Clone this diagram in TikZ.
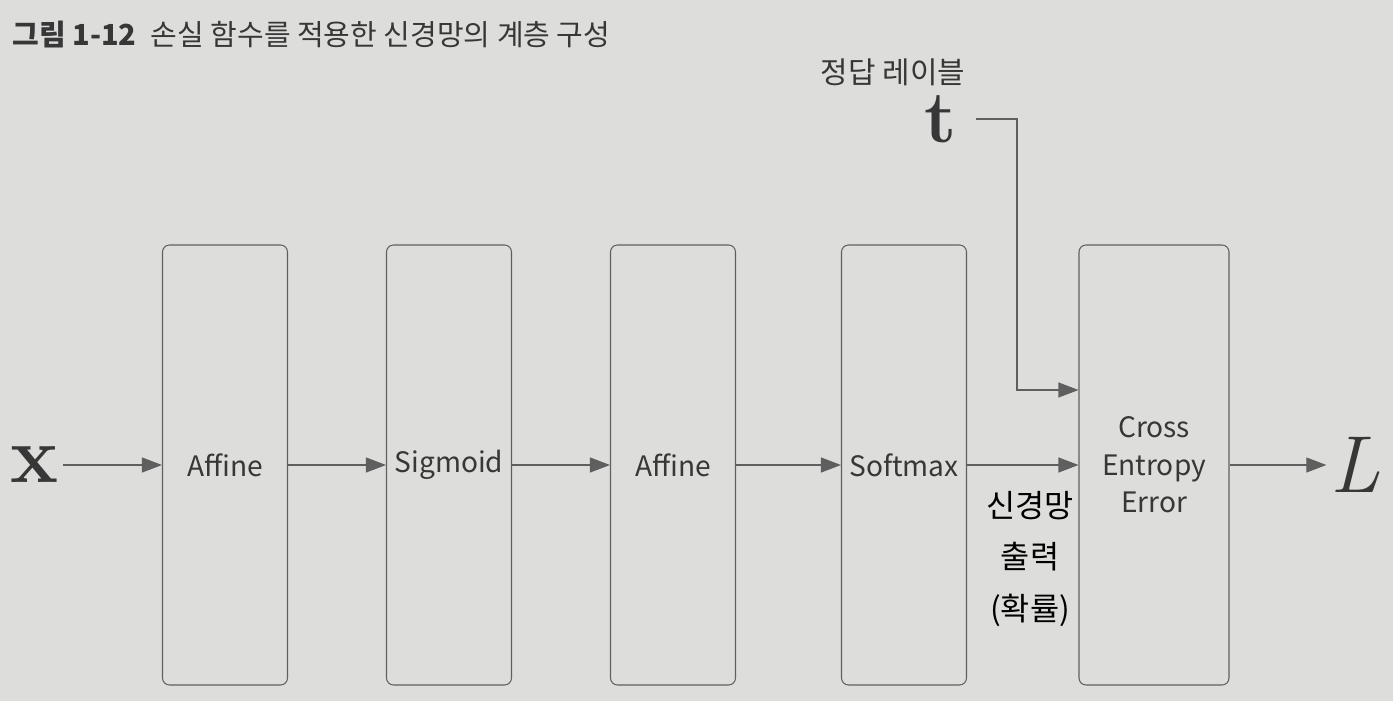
\documentclass[tikz,border=0pt]{standalone}
\usepackage{fontspec}
\usepackage{tikz}
\usetikzlibrary{arrows.meta, positioning, calc}
\newfontfamily\krfont{Noto Sans CJK KR}
\definecolor{pagegray}{RGB}{221, 222, 219}
\definecolor{inkgray}{RGB}{55, 55, 55}
\definecolor{linegray}{RGB}{95, 95, 95}

\begin{document}
\begin{tikzpicture}[
    layerbox/.style={draw=linegray, line width=0.6pt, rounded corners=4pt, minimum width=2.5cm, minimum height=8.8cm, text=inkgray, font=\krfont\fontsize{16}{21.3}\selectfont},
    flowarrow/.style={-{Triangle[length=4mm, width=3mm]}, line width=0.6pt, linegray},
    bigletter/.style={text=inkgray, inner sep=2pt}
]
    % Page background
    \fill[pagegray] (0, 0) rectangle (27.86, 14.02);

    % Caption
    \node[anchor=west, inner sep=0pt, text=inkgray, font=\krfont\fontsize{16.5}{19}\selectfont] (caption) at (0.24, 13.32) {\textbf{그림 1-12}\hspace{0.5em}손실 함수를 적용한 신경망의 계층 구성};

    % Layers
    \node[layerbox] (affine1) at (4.5, 4.72) {Affine};
    \node[layerbox] (sigmoid) at (8.98, 4.72) {Sigmoid};
    \node[layerbox] (affine2) at (13.46, 4.72) {Affine};
    \node[layerbox] (softmax) at (18.08, 4.72) {Softmax};
    \node[layerbox, minimum width=3cm, align=center] (crossent) at (23.08, 4.72) {Cross\\Entropy\\Error};

    % Input, label and loss
    \node[bigletter, font=\bfseries\fontsize{46}{46}\selectfont] (input) at (0.7, 4.72) {x};
    \node[bigletter, font=\bfseries\fontsize{42}{42}\selectfont] (label) at (18.82, 11.64) {t};
    \node[text=inkgray, font=\krfont\fontsize{17}{20}\selectfont] (labelname) at (17.86, 12.58) {정답 레이블};
    \node[bigletter, font=\itshape\fontsize{46}{46}\selectfont] (loss) at (27.1, 4.72) {L};
    \node[align=center, text=black, font=\krfont\fontsize{18}{29.5}\selectfont] (netout) at (20.6, 2.84) {신경망\\출력\\(확률)};

    % Forward flow
    \draw[flowarrow] (input) -- (affine1);
    \draw[flowarrow] (affine1) -- (sigmoid);
    \draw[flowarrow] (sigmoid) -- (affine2);
    \draw[flowarrow] (affine2) -- (softmax);
    \draw[flowarrow] (softmax) -- (crossent);
    \draw[flowarrow] (crossent) -- (loss);

    % Label into loss layer
    \coordinate (bend) at (20.34, 6.22);
    \draw[flowarrow] ([xshift=0.3cm]label.east) -| (bend) -- (bend -| crossent.west);
\end{tikzpicture}
\end{document}
